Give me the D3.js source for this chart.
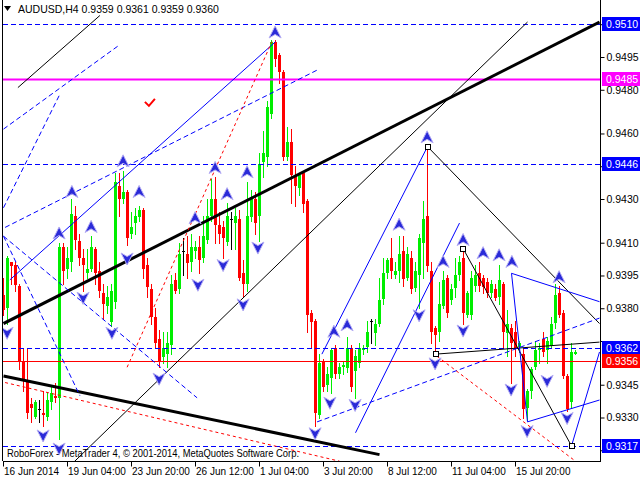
<!DOCTYPE html>
<html><head><meta charset="utf-8">
<script src="https://cdn.jsdelivr.net/npm/d3@7"></script>
<style>body{margin:0;background:#fff}svg{display:block}text{font-family:"Liberation Sans",Arial,sans-serif}</style>
</head><body><svg id="c" width="640" height="480"></svg>
<script>
// ---------- DATA (AUDUSD H4) ----------
const symbol = "AUDUSD,H4";
const lastQuote = ["0.9359","0.9361","0.9359","0.9360"];
const copyright = "RoboForex - MetaTrader 4, \u00A9 2001-2014, MetaQuotes Software Corp.";
const open = [
0.9386,0.9380,0.9401,0.9400,0.9390,0.9356,0.9347,0.9336,0.9330,0.9334,
0.9332,0.9330,0.9337,0.9340,0.9339,0.9408,0.9398,0.9401,0.9422,0.9411,
0.9403,0.9396,0.9398,0.9407,0.9397,0.9387,0.9381,0.9374,0.9383,0.9436,
0.9430,0.9433,0.9414,0.9419,0.9422,0.9425,0.9400,0.9389,0.9376,0.9366,
0.9358,0.9359,0.9363,0.9393,0.9389,0.9406,0.9405,0.9401,0.9406,0.9408,
0.9403,0.9411,0.9422,0.9430,0.9418,0.9417,0.9410,0.9421,0.9419,0.9421,
0.9396,0.9391,0.9422,0.9430,0.9422,0.9447,0.9449,0.9469,0.9502,0.9496,
0.9488,0.9449,0.9456,0.9441,0.9435,0.9442,0.9429,0.9378,0.9374,0.9331,
0.9356,0.9345,0.9348,0.9362,0.9350,0.9353,0.9353,0.9362,0.9351,0.9355,
0.9361,0.9362,0.9374,0.9369,0.9373,0.9384,0.9396,0.9403,0.9395,0.9397,
0.9406,0.9394,0.9403,0.9389,0.9395,0.9410,0.9422,0.9397,0.9371,0.9369,
0.9381,0.9394,0.9384,0.9389,0.9395,0.9403,0.9377,0.9377,0.9390,0.9396,
0.9394,0.9392,0.9387,0.9389,0.9385,0.9391,0.9369,0.9371,0.9369,0.9362,
0.9359,0.9334,0.9342,0.9353,0.9361,0.9366,0.9361,0.9363,0.9373,0.9387,
0.9378,0.9349,0.9337,0.9359];
const high = [
0.9394,0.9404,0.9401,0.9401,0.9391,0.9362,0.9362,0.9339,0.9338,0.9338,
0.9342,0.9341,0.9344,0.9346,0.9410,0.9410,0.9408,0.9430,0.9427,0.9414,
0.9407,0.9407,0.9413,0.9408,0.9401,0.9391,0.9390,0.9391,0.9442,0.9442,
0.9443,0.9434,0.9424,0.9426,0.9427,0.9426,0.9403,0.9391,0.9380,0.9370,
0.9369,0.9369,0.9395,0.9396,0.9410,0.9412,0.9413,0.9414,0.9411,0.9413,
0.9422,0.9430,0.9439,0.9440,0.9424,0.9420,0.9428,0.9424,0.9426,0.9425,
0.9402,0.9438,0.9434,0.9433,0.9451,0.9461,0.9475,0.9503,0.9503,0.9497,
0.9489,0.9463,0.9462,0.9445,0.9442,0.9443,0.9430,0.9379,0.9375,0.9359,
0.9357,0.9353,0.9362,0.9363,0.9355,0.9356,0.9367,0.9363,0.9361,0.9364,
0.9363,0.9374,0.9375,0.9375,0.9394,0.9403,0.9403,0.9412,0.9401,0.9413,
0.9413,0.9408,0.9406,0.9401,0.9414,0.9429,0.9454,0.9401,0.9372,0.9392,
0.9397,0.9395,0.9391,0.9403,0.9404,0.9407,0.9388,0.9397,0.9400,0.9401,
0.9395,0.9394,0.9393,0.9391,0.9400,0.9392,0.9379,0.9373,0.9374,0.9365,
0.9362,0.9343,0.9353,0.9365,0.9364,0.9369,0.9367,0.9376,0.9391,0.9390,
0.9379,0.9350,0.9364,0.9361];
const low = [
0.9377,0.9373,0.9391,0.9388,0.9352,0.9342,0.9330,0.9328,0.9330,0.9328,
0.9326,0.9329,0.9334,0.9337,0.9320,0.9391,0.9394,0.9397,0.9407,0.9400,
0.9388,0.9394,0.9397,0.9391,0.9385,0.9375,0.9378,0.9372,0.9380,0.9422,
0.9428,0.9409,0.9412,0.9414,0.9420,0.9394,0.9385,0.9373,0.9362,0.9353,
0.9355,0.9353,0.9359,0.9387,0.9387,0.9395,0.9394,0.9397,0.9403,0.9396,
0.9401,0.9410,0.9420,0.9410,0.9410,0.9403,0.9409,0.9407,0.9407,0.9393,
0.9385,0.9388,0.9420,0.9414,0.9411,0.9440,0.9445,0.9467,0.9491,0.9483,
0.9448,0.9448,0.9428,0.9427,0.9432,0.9424,0.9369,0.9362,0.9326,0.9330,
0.9342,0.9342,0.9341,0.9348,0.9348,0.9350,0.9351,0.9342,0.9339,0.9353,
0.9359,0.9360,0.9364,0.9363,0.9372,0.9382,0.9394,0.9394,0.9394,0.9392,
0.9390,0.9393,0.9387,0.9388,0.9380,0.9394,0.9397,0.9364,0.9359,0.9365,
0.9380,0.9376,0.9382,0.9385,0.9393,0.9373,0.9376,0.9375,0.9388,0.9388,
0.9387,0.9385,0.9385,0.9384,0.9382,0.9362,0.9358,0.9346,0.9358,0.9360,
0.9330,0.9329,0.9339,0.9352,0.9355,0.9358,0.9355,0.9362,0.9371,0.9376,
0.9348,0.9333,0.9335,0.9359];
const close = [
0.9379,0.9403,0.9399,0.9391,0.9355,0.9347,0.9332,0.9334,0.9337,0.9334,
0.9331,0.9338,0.9341,0.9339,0.9408,0.9397,0.9403,0.9423,0.9411,0.9403,
0.9400,0.9398,0.9408,0.9396,0.9388,0.9382,0.9385,0.9388,0.9438,0.9430,
0.9433,0.9412,0.9417,0.9422,0.9425,0.9398,0.9390,0.9376,0.9364,0.9356,
0.9362,0.9364,0.9391,0.9388,0.9405,0.9406,0.9401,0.9408,0.9408,0.9402,
0.9413,0.9422,0.9430,0.9418,0.9414,0.9412,0.9422,0.9421,0.9422,0.9394,
0.9391,0.9422,0.9431,0.9419,0.9446,0.9451,0.9472,0.9502,0.9494,0.9488,
0.9449,0.9456,0.9441,0.9436,0.9441,0.9428,0.9377,0.9374,0.9332,0.9355,
0.9344,0.9350,0.9361,0.9350,0.9353,0.9354,0.9362,0.9344,0.9358,0.9362,
0.9362,0.9369,0.9374,0.9373,0.9384,0.9396,0.9402,0.9397,0.9397,0.9405,
0.9393,0.9405,0.9389,0.9397,0.9412,0.9421,0.9399,0.9369,0.9368,0.9382,
0.9393,0.9378,0.9389,0.9395,0.9401,0.9378,0.9387,0.9394,0.9395,0.9390,
0.9390,0.9387,0.9391,0.9385,0.9393,0.9369,0.9373,0.9364,0.9361,0.9364,
0.9334,0.9342,0.9352,0.9361,0.9362,0.9360,0.9365,0.9373,0.9386,0.9377,
0.9349,0.9334,0.9360,0.9360];

// time axis: bar index of each label, and label text
const timeTickBars = [0,16,32,48,64,80,96,112,128];
const timeTickLabels = ["16 Jun 2014","19 Jun 04:00","23 Jun 20:00","26 Jun 12:00","1 Jul 04:00","3 Jul 20:00","8 Jul 12:00","11 Jul 04:00","15 Jul 20:00"];
// price axis ticks (all tick marks) and the ones whose label is not covered by a level box
const priceTicks = [0.9510,0.9495,0.9480,0.9460,0.9445,0.9430,0.9410,0.9395,0.9380,0.9365,0.9345,0.9330,0.9315];
const priceTickLabels = [0.9495,0.9480,0.9460,0.9430,0.9410,0.9395,0.9380,0.9345,0.9330];

// horizontal level objects
const levelPrices = [0.9510,0.9485,0.9446,0.9362,0.9356,0.9317];
const levelKinds  = ["bdash","magenta","bdash","bdash","red","bdash"];

// trend line objects: bar index / price of both ends
const lineBar1   = [0,0,15,106,115,108,3.6, 1.6,79.6,88,127,127,131,142, 78.4,0.4,0,0,0,0, 30.9,0.4,108.4];
const linePrice1 = [0.9373,0.9349,0.9305,0.9454,0.9407,0.9359,0.9481, 0.9393,0.9359,0.9323,0.9396,0.9396,0.9328,0.9317, 0.9328,0.9417,0.9413,0.9413,0.9426,0.9462, 0.9353,0.9346,0.9358];
const lineBar2   = [149,94,131,149,142,149,24.1, 68,106,114,149,131,149,149, 149,78.4,48.4,19.1,14.1,28.6, 67.1,84,143];
const linePrice2 = [0.9511,0.9313,0.9511,0.9373,0.9317,0.93645,0.9514, 0.9502,0.9454,0.9419,0.9383,0.9328,0.9338,0.9360, 0.93755,0.9489,0.9339,0.9340,0.9478,0.9500, 0.9502,0.9310,0.9310];
const lineKinds  = ["kthick","kthick","kthin","kthin","kthin","kthin","kthin",
  "bsolid","bsolid","bsolid","bsolid","bsolid","bsolid","bsolid",
  "bdash","bdash","bdash","bdash","bdash","bdash",
  "rdot","rdot","rdot"];

// arrow signs
const upBars   = [13.9,17.1,21.9,29.9,33.9,47.9,52.9,55.9,60.9,67.9,82.6,85.9,98.9,105.9,109.9,114.9,119.9,123.9,127.1,138.9];
const upPrices = [0.9414,0.9433,0.9417,0.9447,0.9433,0.9421,0.9444,0.9432,0.9442,0.9506,0.9369,0.9372,0.9418,0.9458,0.9401,0.9411,0.9405,0.9404,0.9401,0.9394];
const dnBars   = [0.9,9.9,13.9,19.9,27.1,30.9,38.9,48.6,54.9,59.9,63.6,77.9,81.6,87.9,103.9,107.9,114.9,126.9,130.9,135.9,140.9];
const dnPrices = [0.9369,0.9322,0.9316,0.9385,0.9369,0.9403,0.9348,0.9391,0.9400,0.9382,0.9408,0.9323,0.9337,0.9336,0.9377,0.9355,0.9370,0.9343,0.9324,0.9347,0.9330];
// anchor squares
const sqBars   = [106,115,108,142];
const sqPrices = [0.9454,0.9407,0.9359,0.9317];
// check sign
const checkBar = 36.6, checkPrice = 0.9474;

// ---------- STYLES ----------
const styles = {
  kthick:{stroke:"#000",w:3,dash:null},
  kthin:{stroke:"#000",w:1,dash:null},
  bsolid:{stroke:"#0000ff",w:1,dash:null},
  bdash:{stroke:"#0000ff",w:1,dash:"5,3"},
  rdot:{stroke:"#ff0000",w:1,dash:"3,3"},
  magenta:{stroke:"#ff00ff",w:2,dash:null},
  red:{stroke:"#ff0000",w:1,dash:null}
};
const boxFill = {bdash:"#0000ff",magenta:"#ff00ff",red:"#ff0000"};

// ---------- CHART ----------
const svg = d3.select("#c");
const L=3, R=600, T=0, B=461;
const x = d3.scaleLinear().domain([0,143]).range([3.5,575.5]);
const y = d3.scaleLinear().domain([0.9495,0.9330]).range([57,417.5]);

svg.append("defs").append("clipPath").attr("id","pc")
  .append("rect").attr("x",L).attr("y",T).attr("width",R-L).attr("height",B-T);
const g = svg.append("g").attr("clip-path","url(#pc)");

// candles
const bars = d3.range(open.length).map(i=>({i,o:open[i],h:high[i],l:low[i],c:close[i]}));
const col = d=> d.c>d.o? "#00ee00" : (d.c<d.o? "#ff0000" : "#000000");
const cg = g.append("g").attr("shape-rendering","crispEdges");
cg.selectAll("line").data(bars).join("line")
  .attr("x1",d=>x(d.i)).attr("x2",d=>x(d.i))
  .attr("y1",d=>Math.round(y(d.h))).attr("y2",d=>Math.round(y(d.l))+1)
  .attr("stroke",col).attr("stroke-width",1);
cg.selectAll("rect").data(bars).join("rect")
  .attr("x",d=>x(d.i)-1.5).attr("width",3)
  .attr("y",d=>Math.round(y(Math.max(d.o,d.c))))
  .attr("height",d=>Math.max(1,Math.round(Math.abs(y(d.o)-y(d.c)))))
  .attr("fill",col);

// horizontal levels
const levels = levelPrices.map((p,k)=>({p,kind:levelKinds[k]}));
g.selectAll("line.lvl").data(levels).join("line").attr("class","lvl")
  .attr("x1",L).attr("x2",R)
  .attr("y1",d=>Math.round(y(d.p))+0.5).attr("y2",d=>Math.round(y(d.p))+0.5)
  .attr("stroke",d=>styles[d.kind].stroke).attr("stroke-width",d=>styles[d.kind].w)
  .attr("stroke-dasharray",d=>styles[d.kind].dash);

// trend lines
const tl = lineKinds.map((k,j)=>({k,b1:lineBar1[j],p1:linePrice1[j],b2:lineBar2[j],p2:linePrice2[j]}));
g.selectAll("line.tl").data(tl).join("line").attr("class","tl")
  .attr("x1",d=>x(d.b1)).attr("y1",d=>y(d.p1))
  .attr("x2",d=>x(d.b2)).attr("y2",d=>y(d.p2))
  .attr("stroke",d=>styles[d.k].stroke).attr("stroke-width",d=>styles[d.k].w)
  .attr("stroke-dasharray",d=>styles[d.k].dash);

// arrows
const upPath = "M0,-7L6,5L0,1.5L-6,5Z", dnPath = "M0,7L6,-5L0,-1.5L-6,-5Z";
g.selectAll("path.up").data(upBars.map((b,k)=>({b,p:upPrices[k]}))).join("path").attr("class","up")
  .attr("d",upPath).attr("transform",d=>`translate(${x(d.b)},${y(d.p)})`)
  .attr("fill","#2a2ad8").attr("stroke","#b4acf4").attr("stroke-width",1);
g.selectAll("path.dn").data(dnBars.map((b,k)=>({b,p:dnPrices[k]}))).join("path").attr("class","dn")
  .attr("d",dnPath).attr("transform",d=>`translate(${x(d.b)},${y(d.p)})`)
  .attr("fill","#2a2ad8").attr("stroke","#b4acf4").attr("stroke-width",1);

// squares
g.selectAll("rect.sq").data(sqBars.map((b,k)=>({b,p:sqPrices[k]}))).join("rect").attr("class","sq")
  .attr("x",d=>Math.round(x(d.b))-2.5).attr("y",d=>Math.round(y(d.p))-2.5)
  .attr("width",5).attr("height",5).attr("fill","#fff").attr("stroke","#000");

// check sign
g.append("path").attr("d","M-5,-1L-1,3L5,-4")
  .attr("transform",`translate(${x(checkBar)},${y(checkPrice)})`)
  .attr("fill","none").attr("stroke","#ff0000").attr("stroke-width",2);

// copyright
svg.append("text").attr("x",7).attr("y",457).attr("font-size",11).attr("fill","#000")
  .attr("textLength",292).attr("lengthAdjust","spacingAndGlyphs").text(copyright);

// borders
svg.append("g").attr("shape-rendering","crispEdges").selectAll("line")
  .data([[L-0.5,0,L-0.5,B],[R+0.5,0,R+0.5,B+0.5],[L-0.5,B+0.5,R+0.5,B+0.5]]).join("line")
  .attr("x1",d=>d[0]).attr("y1",d=>d[1]).attr("x2",d=>d[2]).attr("y2",d=>d[3]).attr("stroke","#000");

// right price axis
const ya = svg.append("g").attr("transform",`translate(${R+0.5},0)`)
  .call(d3.axisRight(y).tickValues(priceTicks).tickSize(4).tickPadding(2)
    .tickFormat(d=> priceTickLabels.includes(d) ? d3.format(".4f")(d) : ""));
ya.select(".domain").remove();
ya.selectAll("text").attr("font-size",10.5).attr("font-family","Liberation Sans, Arial, sans-serif").attr("fill","#000");
ya.selectAll("line").attr("stroke","#000");

// price label boxes
const bx = svg.append("g");
levels.forEach(d=>{
  const yy = Math.round(y(d.p));
  bx.append("rect").attr("x",R+2).attr("y",yy-7).attr("width",38).attr("height",14).attr("fill",boxFill[d.kind]);
  bx.append("text").attr("x",R+6).attr("y",yy+4).attr("font-size",10.5).attr("fill","#fff").text(d3.format(".4f")(d.p));
});

// bottom time axis
const xa = svg.append("g").attr("transform",`translate(0,${B+0.5})`)
  .call(d3.axisBottom(x).tickValues(timeTickBars).tickSize(5).tickFormat((d,k)=>timeTickLabels[k]));
xa.select(".domain").remove();
xa.selectAll(".tick line").attr("stroke","#000").attr("transform","translate(-0.5,0)");
xa.selectAll(".tick text").attr("text-anchor","start").attr("x",0).attr("y",6)
  .attr("font-size",10).attr("font-family","Liberation Sans, Arial, sans-serif").attr("fill","#000");

// title
svg.append("path").attr("d","M4,6L11,6L7.5,11Z").attr("fill","#000");
svg.append("text").attr("x",18).attr("y",13).attr("font-size",10.5).attr("fill","#000")
  .text(symbol + "  " + lastQuote.join(" "));
</script></body></html>
